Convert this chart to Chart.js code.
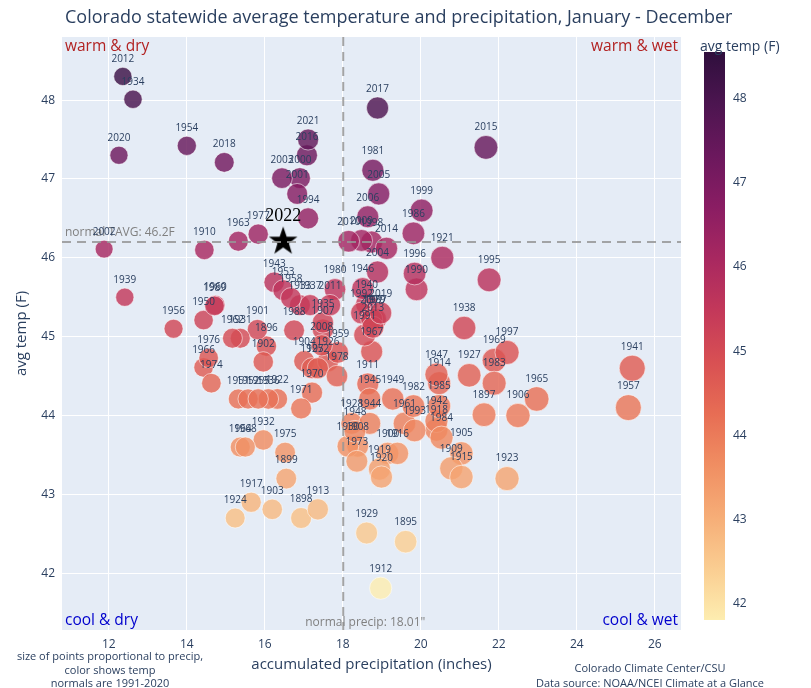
<!DOCTYPE html>
<html>
<head>
<meta charset="utf-8">
<script src="https://cdn.jsdelivr.net/npm/chart.js@4.4.1/dist/chart.umd.min.js"></script>
<style>
  body { margin: 0; background: #fff; }
  #wrap { width: 811px; height: 688px; }
</style>
</head>
<body>
<div id="wrap"><canvas id="chart" width="811" height="688"></canvas></div>
<script>
// one entry per year, 1895 - 2021 (2022 is the star)
const years = [
  1895,1896,1897,1898,1899,1900,1901,1902,1903,1904,1905,1906,1907,1908,1909,
  1910,1911,1912,1913,1914,1915,1916,1917,1918,1919,1920,1921,1922,1923,1924,
  1925,1926,1927,1928,1929,1930,1931,1932,1933,1934,1935,1936,1937,1938,1939,
  1940,1941,1942,1943,1944,1945,1946,1947,1948,1949,1950,1951,1952,1953,1954,
  1955,1956,1957,1958,1959,1960,1961,1962,1963,1964,1965,1966,1967,1968,1969,
  1970,1971,1972,1973,1974,1975,1976,1977,1978,1979,1980,1981,1982,1983,1984,
  1985,1986,1987,1988,1989,1990,1991,1992,1993,1994,1995,1996,1997,1998,1999,
  2000,2001,2002,2003,2004,2005,2006,2007,2008,2009,2010,2011,2012,2013,2014,
  2015,2016,2017,2018,2019,2020,2021
];
const precip = [
  19.61,16.04,21.62,16.93,16.55,19.15,15.81,15.96,16.19,17.01,21.04,22.49,17.49,18.38,20.78,
  14.45,18.64,18.97,17.36,20.47,21.04,19.40,15.65,20.40,18.94,18.99,20.55,16.32,22.21,15.24,
  17.21,17.62,21.24,18.23,18.61,18.13,15.37,15.96,16.90,12.62,17.49,16.09,17.16,21.11,12.41,
  18.61,25.42,20.40,16.24,18.69,18.69,18.51,20.40,18.31,19.28,14.43,15.32,15.57,16.47,14.00,
  15.83,13.66,25.32,16.67,17.87,14.73,19.58,15.17,15.32,15.37,22.97,14.43,18.74,15.50,21.88,
  17.21,16.93,17.36,18.36,14.63,16.52,14.56,15.83,17.85,18.80,17.80,18.77,19.81,21.88,20.53,
  20.47,19.81,18.84,16.75,14.71,19.89,18.56,18.48,19.84,17.11,21.75,19.84,22.21,18.74,20.02,
  16.90,16.83,11.88,16.44,18.89,18.92,18.64,18.74,17.46,18.48,18.15,17.67,12.36,18.77,19.12,
  21.67,17.08,18.89,14.96,18.97,12.26,17.11
];
const temp = [
  42.40,44.88,44.01,42.70,43.20,43.52,45.09,44.68,42.81,44.69,43.52,44.00,45.09,43.61,43.33,
  46.10,44.40,41.81,42.81,44.41,43.22,43.52,42.90,43.82,43.32,43.22,46.00,44.21,43.20,42.70,
  44.60,44.69,44.51,43.90,42.51,43.61,44.98,43.69,45.40,48.01,45.18,44.21,45.40,45.11,45.50,
  45.41,44.60,43.93,45.69,43.90,44.21,45.61,44.52,43.80,44.21,45.21,44.21,44.21,45.59,47.42,
  44.21,45.10,44.10,45.49,44.80,45.40,43.90,44.98,46.21,43.60,44.21,44.61,44.81,43.60,44.70,
  44.29,44.09,44.60,43.42,44.41,43.53,44.73,46.30,44.50,45.22,45.60,47.11,44.12,44.41,43.72,
  44.12,46.31,45.22,45.08,45.39,45.60,45.02,45.30,43.81,46.50,45.72,45.80,44.80,46.20,46.60,
  47.01,46.81,46.11,47.01,45.82,46.81,46.52,45.22,44.89,46.22,46.21,45.40,48.30,45.12,46.12,
  47.40,47.30,47.90,47.21,45.30,47.30,47.50
];
const starYears = [2022];
const starPrecip = [16.47];
const starTemp = [46.22];

const normalPrecip = 18.01;
const normalTemp = 46.2;
const xTicks = [12, 14, 16, 18, 20, 22, 24, 26];
const yTicks = [42, 43, 44, 45, 46, 47, 48];
const cbarTicks = [42, 43, 44, 45, 46, 47, 48];

// cmocean "matter" (light -> dark)
const matter = ['#fdedb0','#facd91','#f6ad77','#f08e62','#e76d54','#d85053',
                '#c3385a','#a82860','#8a1d63','#6b185d','#4c1550','#2f0f3d'];
const cmin = 41.81, cmax = 48.55;

function hexRgb(h) {
  return [parseInt(h.slice(1,3),16), parseInt(h.slice(3,5),16), parseInt(h.slice(5,7),16)];
}
function tempColor(t, alpha) {
  let f = (t - cmin) / (cmax - cmin);
  f = Math.max(0, Math.min(1, f)) * (matter.length - 1);
  const i = Math.min(Math.floor(f), matter.length - 2);
  const a = hexRgb(matter[i]), b = hexRgb(matter[i + 1]);
  const k = f - i;
  const c = a.map((v, j) => Math.round(v + (b[j] - v) * k));
  return 'rgba(' + c[0] + ',' + c[1] + ',' + c[2] + ',' + alpha + ')';
}

const FONT = '"Open Sans", "Noto Sans", sans-serif';
const INK = '#2a3f5f';

// black five point star for 2022
function makeStar() {
  const s = document.createElement('canvas');
  s.width = 32; s.height = 32;
  const g = s.getContext('2d');
  g.beginPath();
  for (let i = 0; i < 10; i++) {
    const rad = i % 2 === 0 ? 15 : 6;
    const ang = -Math.PI / 2 + i * Math.PI / 5;
    const px = 16 + rad * Math.cos(ang), py = 17 + rad * Math.sin(ang);
    if (i === 0) g.moveTo(px, py); else g.lineTo(px, py);
  }
  g.closePath();
  g.fillStyle = '#000';
  g.fill();
  return s;
}

const bubbleData = years.map((yr, i) => ({ x: precip[i], y: temp[i], r: 0.3 * precip[i] + 5.4 }));
const starData = starYears.map((yr, i) => ({ x: starPrecip[i], y: starTemp[i] }));

const extras = {
  id: 'extras',
  beforeDraw(chart) {
    const { ctx, chartArea: a } = chart;
    ctx.save();
    ctx.fillStyle = '#e5ecf6';
    ctx.fillRect(a.left, a.top, a.right - a.left, a.bottom - a.top);
    ctx.restore();
  },
  afterDatasetsDraw(chart) {
    const { ctx, chartArea: a, scales: { x, y } } = chart;
    ctx.save();
    // normal lines
    ctx.strokeStyle = 'rgba(150,150,150,0.85)';
    ctx.lineWidth = 2;
    ctx.setLineDash([9, 6]);
    const ny = y.getPixelForValue(normalTemp);
    ctx.beginPath(); ctx.moveTo(a.left, ny); ctx.lineTo(a.right, ny); ctx.stroke();
    const nx = x.getPixelForValue(normalPrecip);
    ctx.beginPath(); ctx.moveTo(nx, a.top); ctx.lineTo(nx, a.bottom); ctx.stroke();
    ctx.setLineDash([]);

    ctx.fillStyle = '#808080';
    ctx.font = '12px ' + FONT;
    ctx.textAlign = 'left';
    ctx.textBaseline = 'bottom';
    ctx.fillText('normal TAVG: 46.2F', a.left + 3, ny - 3);
    ctx.textAlign = 'center';
    ctx.fillText('normal precip: 18.01"', nx + 22, a.bottom - 1);

    // year labels
    const meta = chart.getDatasetMeta(0);
    ctx.fillStyle = INK;
    ctx.font = '10px ' + FONT;
    ctx.textAlign = 'center';
    ctx.textBaseline = 'bottom';
    meta.data.forEach((el, i) => {
      ctx.fillText(String(years[i]), el.x, el.y - el.options.radius - 3);
    });
    const sm = chart.getDatasetMeta(1);
    ctx.fillStyle = '#000';
    ctx.font = '18px "Liberation Serif", "DejaVu Serif", serif';
    sm.data.forEach((el, i) => {
      ctx.fillText(String(starYears[i]), el.x, el.y - 15);
    });

    // quadrant labels
    ctx.font = '15.5px ' + FONT;
    ctx.textBaseline = 'middle';
    ctx.fillStyle = '#b22222';
    ctx.textAlign = 'left';
    ctx.fillText('warm & dry', a.left + 3, a.top + 10);
    ctx.textAlign = 'right';
    ctx.fillText('warm & wet', a.right - 3, a.top + 10);
    ctx.fillStyle = '#0000cd';
    ctx.textAlign = 'left';
    ctx.fillText('cool & dry', a.left + 3, a.bottom - 9);
    ctx.textAlign = 'right';
    ctx.fillText('cool & wet', a.right - 3, a.bottom - 9);
    ctx.restore();
  },
  afterDraw(chart) {
    const { ctx, chartArea: a } = chart;
    ctx.save();
    ctx.fillStyle = INK;
    // title
    ctx.font = '18px ' + FONT;
    ctx.textAlign = 'left';
    ctx.textBaseline = 'middle';
    ctx.fillText('Colorado statewide average temperature and precipitation, January - December', 65, 18);
    // axis titles
    ctx.font = '15px ' + FONT;
    ctx.textAlign = 'center';
    ctx.fillText('accumulated precipitation (inches)', (a.left + a.right) / 2, 665);
    ctx.save();
    ctx.translate(22, (a.top + a.bottom) / 2);
    ctx.rotate(-Math.PI / 2);
    ctx.fillText('avg temp (F)', 0, 0);
    ctx.restore();
    // notes
    ctx.font = '11px ' + FONT;
    ctx.fillText('size of points proportional to precip,', 110, 657);
    ctx.fillText('color shows temp', 110, 671);
    ctx.fillText('normals are 1991-2020', 110, 684);
    ctx.fillText('Colorado Climate Center/CSU', 650, 669);
    ctx.fillText('Data source: NOAA/NCEI Climate at a Glance', 650, 684);

    // colorbar
    const cx = 704, cw = 21, ctop = 52, cbot = 620;
    const grad = ctx.createLinearGradient(0, cbot, 0, ctop);
    matter.forEach((c, i) => grad.addColorStop(i / (matter.length - 1), c));
    ctx.fillStyle = grad;
    ctx.fillRect(cx, ctop, cw, cbot - ctop);
    ctx.fillStyle = INK;
    ctx.font = '14px ' + FONT;
    ctx.textAlign = 'left';
    ctx.fillText('avg temp (F)', 700, 47);
    ctx.font = '12px ' + FONT;
    cbarTicks.forEach(t => {
      const py = cbot - (t - cmin) / (cmax - cmin) * (cbot - ctop);
      ctx.fillText(String(t), cx + cw + 8, py);
    });
    ctx.restore();
  }
};

new Chart(document.getElementById('chart'), {
  type: 'bubble',
  data: {
    datasets: [
      {
        label: 'years',
        data: bubbleData,
        backgroundColor: temp.map(t => tempColor(t, 0.82)),
        borderColor: 'rgba(255,255,255,0.55)',
        borderWidth: 1,
        order: 1
      },
      {
        type: 'scatter',
        label: '2022',
        data: starData,
        pointStyle: makeStar(),
        pointRadius: 15,
        order: 0
      }
    ]
  },
  options: {
    responsive: false,
    animation: false,
    devicePixelRatio: 1,
    layout: { padding: { top: 37, right: 130, left: 0, bottom: 0 } },
    plugins: { legend: { display: false }, tooltip: { enabled: false } },
    events: [],
    scales: {
      x: {
        type: 'linear',
        min: 10.8,
        max: 26.67,
        afterFit: s => { s.height = 58; },
        afterBuildTicks: s => { s.ticks = xTicks.map(v => ({ value: v })); },
        grid: { color: '#ffffff', lineWidth: 1, drawTicks: false },
        border: { display: false },
        ticks: { color: INK, font: { size: 12, family: FONT }, padding: 7 }
      },
      y: {
        type: 'linear',
        min: 41.28,
        max: 48.8,
        afterFit: s => { s.width = 62; },
        afterBuildTicks: s => { s.ticks = yTicks.map(v => ({ value: v })); },
        grid: { color: '#ffffff', lineWidth: 1, drawTicks: false },
        border: { display: false },
        ticks: { color: INK, font: { size: 12, family: FONT }, padding: 7 }
      }
    }
  },
  plugins: [extras]
});
</script>
</body>
</html>
